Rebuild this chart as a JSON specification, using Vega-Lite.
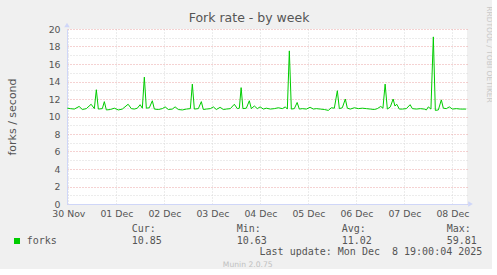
{
  "$schema": "https://vega.github.io/schema/vega-lite/v6.json",
  "background": "#f0f0f0",
  "padding": {"left": 6, "top": 5, "right": 0, "bottom": 0},
  "config": {"view": {"stroke": null}},
  "spacing": 5,
  "datasets": {
    "fork": [
      {"t":"2025-11-30T11:30","v":10.95},{"t":"2025-11-30T13:00","v":10.9},{"t":"2025-11-30T15:00","v":10.85},{"t":"2025-11-30T17:24","v":11.15},{"t":"2025-11-30T19:00","v":10.8},{"t":"2025-11-30T21:00","v":10.9},{"t":"2025-11-30T23:24","v":11.4},
      {"t":"2025-12-01T01:00","v":10.9},{"t":"2025-12-01T02:00","v":13.06},{"t":"2025-12-01T03:00","v":10.85},{"t":"2025-12-01T05:00","v":10.9},{"t":"2025-12-01T06:00","v":11.7},{"t":"2025-12-01T07:00","v":10.75},{"t":"2025-12-01T09:00","v":10.8},{"t":"2025-12-01T11:00","v":10.95},{"t":"2025-12-01T13:00","v":10.75},{"t":"2025-12-01T15:00","v":10.85},{"t":"2025-12-01T17:54","v":11.4},{"t":"2025-12-01T19:30","v":10.9},{"t":"2025-12-01T21:00","v":10.85},{"t":"2025-12-01T22:30","v":10.95},{"t":"2025-12-01T23:54","v":11.35},
      {"t":"2025-12-02T01:00","v":10.95},{"t":"2025-12-02T02:00","v":14.5},{"t":"2025-12-02T03:00","v":10.95},{"t":"2025-12-02T04:30","v":11.0},{"t":"2025-12-02T06:00","v":11.8},{"t":"2025-12-02T07:00","v":10.85},{"t":"2025-12-02T09:00","v":10.8},{"t":"2025-12-02T11:00","v":10.9},{"t":"2025-12-02T12:24","v":11.1},{"t":"2025-12-02T14:00","v":10.8},{"t":"2025-12-02T16:00","v":10.85},{"t":"2025-12-02T17:24","v":11.1},{"t":"2025-12-02T19:00","v":10.8},{"t":"2025-12-02T21:00","v":10.75},{"t":"2025-12-02T23:00","v":10.85},
      {"t":"2025-12-03T01:00","v":10.9},{"t":"2025-12-03T02:00","v":13.7},{"t":"2025-12-03T03:00","v":10.85},{"t":"2025-12-03T05:00","v":10.9},{"t":"2025-12-03T06:30","v":11.7},{"t":"2025-12-03T07:30","v":10.8},{"t":"2025-12-03T09:00","v":10.85},{"t":"2025-12-03T11:00","v":10.9},{"t":"2025-12-03T12:30","v":11.1},{"t":"2025-12-03T14:00","v":10.8},{"t":"2025-12-03T15:54","v":11.05},{"t":"2025-12-03T17:30","v":10.8},{"t":"2025-12-03T19:00","v":10.85},{"t":"2025-12-03T21:00","v":10.9},{"t":"2025-12-03T23:00","v":11.4},
      {"t":"2025-12-04T00:30","v":10.9},{"t":"2025-12-04T01:30","v":10.95},{"t":"2025-12-04T02:24","v":13.3},{"t":"2025-12-04T03:18","v":10.9},{"t":"2025-12-04T05:00","v":10.95},{"t":"2025-12-04T06:30","v":11.8},{"t":"2025-12-04T07:30","v":10.9},{"t":"2025-12-04T09:00","v":11.2},{"t":"2025-12-04T10:30","v":10.9},{"t":"2025-12-04T11:54","v":11.1},{"t":"2025-12-04T13:30","v":10.85},{"t":"2025-12-04T15:00","v":10.95},{"t":"2025-12-04T17:00","v":10.85},{"t":"2025-12-04T19:00","v":10.9},{"t":"2025-12-04T21:00","v":11.0},{"t":"2025-12-04T23:00","v":10.9},
      {"t":"2025-12-05T00:30","v":11.1},{"t":"2025-12-05T01:30","v":10.85},{"t":"2025-12-05T02:30","v":17.5},{"t":"2025-12-05T03:30","v":10.85},{"t":"2025-12-05T05:00","v":10.9},{"t":"2025-12-05T06:24","v":11.6},{"t":"2025-12-05T07:30","v":10.85},{"t":"2025-12-05T09:00","v":10.9},{"t":"2025-12-05T11:00","v":10.85},{"t":"2025-12-05T12:54","v":11.05},{"t":"2025-12-05T14:30","v":10.85},{"t":"2025-12-05T16:00","v":10.9},{"t":"2025-12-05T18:00","v":10.85},{"t":"2025-12-05T20:00","v":10.8},{"t":"2025-12-05T22:00","v":10.7},{"t":"2025-12-05T23:30","v":11.0},
      {"t":"2025-12-06T01:00","v":10.95},{"t":"2025-12-06T02:30","v":12.95},{"t":"2025-12-06T03:30","v":10.9},{"t":"2025-12-06T05:00","v":11.0},{"t":"2025-12-06T06:30","v":12.0},{"t":"2025-12-06T07:30","v":10.95},{"t":"2025-12-06T09:00","v":10.85},{"t":"2025-12-06T11:00","v":11.0},{"t":"2025-12-06T13:00","v":10.9},{"t":"2025-12-06T15:00","v":10.95},{"t":"2025-12-06T17:00","v":10.9},{"t":"2025-12-06T19:00","v":10.85},{"t":"2025-12-06T21:00","v":10.8},{"t":"2025-12-06T22:30","v":10.9},
      {"t":"2025-12-07T00:12","v":11.15},{"t":"2025-12-07T01:18","v":10.95},{"t":"2025-12-07T02:24","v":13.7},{"t":"2025-12-07T03:30","v":10.85},{"t":"2025-12-07T05:00","v":11.1},{"t":"2025-12-07T06:24","v":12.0},{"t":"2025-12-07T07:18","v":11.2},{"t":"2025-12-07T08:12","v":11.4},{"t":"2025-12-07T09:30","v":10.85},{"t":"2025-12-07T11:00","v":10.85},{"t":"2025-12-07T13:00","v":10.9},{"t":"2025-12-07T14:54","v":11.35},{"t":"2025-12-07T16:00","v":10.9},{"t":"2025-12-07T18:00","v":10.85},{"t":"2025-12-07T20:00","v":10.9},{"t":"2025-12-07T22:00","v":10.85},{"t":"2025-12-07T23:00","v":10.75},
      {"t":"2025-12-08T00:00","v":11.1},{"t":"2025-12-08T01:18","v":10.85},{"t":"2025-12-08T02:30","v":19.1},{"t":"2025-12-08T03:30","v":10.7},{"t":"2025-12-08T05:00","v":10.75},{"t":"2025-12-08T06:30","v":11.9},{"t":"2025-12-08T07:30","v":10.95},{"t":"2025-12-08T09:00","v":10.9},{"t":"2025-12-08T10:30","v":11.1},{"t":"2025-12-08T12:00","v":10.85},{"t":"2025-12-08T14:00","v":10.9},{"t":"2025-12-08T16:00","v":10.85},{"t":"2025-12-08T18:54","v":10.85}
    ],
    "legend": [
      {"kind":"stat","col":"Cur","row":"head","label":"Cur:"},
      {"kind":"stat","col":"Min","row":"head","label":"Min:"},
      {"kind":"stat","col":"Avg","row":"head","label":"Avg:"},
      {"kind":"stat","col":"Max","row":"head","label":"Max:"},
      {"kind":"stat","col":"forks","row":"value","label":"forks"},
      {"kind":"stat","col":"Cur","row":"value","label":"10.85"},
      {"kind":"stat","col":"Min","row":"value","label":"10.63"},
      {"kind":"stat","col":"Avg","row":"value","label":"11.02"},
      {"kind":"stat","col":"Max","row":"value","label":"59.81"},
      {"kind":"update","col":"Max","row":"update","label":"Last update: Mon Dec \u00a08 19:00:04 2025"},
      {"kind":"munin","col":"Min","row":"munin","label":"Munin 2.0.75"}
    ]
  },
  "vconcat": [
    {
      "width": 400,
      "height": 175,
      "title": {"text": "Fork rate - by week", "font": "DejaVu Sans", "fontSize": 12.5, "fontWeight": "normal", "color": "#555555", "anchor": "middle", "frame": "bounds", "baseline": "alphabetic", "offset": -29},
      "view": {"fill": "#ffffff", "stroke": null},
      "resolve": {"axis": {"y": "independent"}},
      "layer": [
        {
          "data": {"name": "fork"},
          "mark": {"type": "line", "color": "#00cc00", "strokeWidth": 1},
          "encoding": {
            "x": {
              "field": "t", "type": "temporal",
              "scale": {"domain": [{"year": 2025, "month": 11, "date": 30, "hours": 11, "minutes": 20}, {"year": 2025, "month": 12, "date": 8, "hours": 19, "minutes": 20}]},
              "axis": {
                "title": null,
                "values": [
                  {"year":2025,"month":11,"date":30,"hours":12},{"year":2025,"month":11,"date":30,"hours":18},
                  {"year":2025,"month":12,"date":1,"hours":0},{"year":2025,"month":12,"date":1,"hours":6},{"year":2025,"month":12,"date":1,"hours":12},{"year":2025,"month":12,"date":1,"hours":18},
                  {"year":2025,"month":12,"date":2,"hours":0},{"year":2025,"month":12,"date":2,"hours":6},{"year":2025,"month":12,"date":2,"hours":12},{"year":2025,"month":12,"date":2,"hours":18},
                  {"year":2025,"month":12,"date":3,"hours":0},{"year":2025,"month":12,"date":3,"hours":6},{"year":2025,"month":12,"date":3,"hours":12},{"year":2025,"month":12,"date":3,"hours":18},
                  {"year":2025,"month":12,"date":4,"hours":0},{"year":2025,"month":12,"date":4,"hours":6},{"year":2025,"month":12,"date":4,"hours":12},{"year":2025,"month":12,"date":4,"hours":18},
                  {"year":2025,"month":12,"date":5,"hours":0},{"year":2025,"month":12,"date":5,"hours":6},{"year":2025,"month":12,"date":5,"hours":12},{"year":2025,"month":12,"date":5,"hours":18},
                  {"year":2025,"month":12,"date":6,"hours":0},{"year":2025,"month":12,"date":6,"hours":6},{"year":2025,"month":12,"date":6,"hours":12},{"year":2025,"month":12,"date":6,"hours":18},
                  {"year":2025,"month":12,"date":7,"hours":0},{"year":2025,"month":12,"date":7,"hours":6},{"year":2025,"month":12,"date":7,"hours":12},{"year":2025,"month":12,"date":7,"hours":18},
                  {"year":2025,"month":12,"date":8,"hours":0},{"year":2025,"month":12,"date":8,"hours":6},{"year":2025,"month":12,"date":8,"hours":12},{"year":2025,"month":12,"date":8,"hours":18}
                ],
                "labelExpr": "hours(datum.value) === 12 ? timeFormat(datum.value, '%d %b') : ''",
                "labelOverlap": false, "labelFlush": false,
                "labelFont": "DejaVu Sans", "labelFontSize": 9.33, "labelColor": "#555555", "labelPadding": 5.5,
                "ticks": false,
                "domainColor": "#cfd6f8",
                "grid": true,
                "gridColor": {"condition": {"test": "hours(datum.value) === 0", "value": "#eba5a5"}, "value": "#d8d8d8"},
                "gridDash": [1, 2], "gridOpacity": 1
              }
            },
            "y": {
              "field": "v", "type": "quantitative",
              "scale": {"domain": [0, 20], "nice": false},
              "axis": {
                "orient": "left",
                "values": [0,1,2,3,4,5,6,7,8,9,10,11,12,13,14,15,16,17,18,19,20],
                "title": "forks / second",
                "titleFont": "DejaVu Sans", "titleFontSize": 11, "titleFontWeight": "normal", "titleColor": "#555555", "titlePadding": 31,
                "labelExpr": "datum.value % 2 === 0 ? datum.label : ''",
                "labelOverlap": false, "labelFlush": false,
                "labelFont": "DejaVu Sans", "labelFontSize": 9.33, "labelColor": "#555555", "labelPadding": 7,
                "ticks": false,
                "domainColor": "#cfd6f8",
                "grid": true,
                "gridColor": {"condition": {"test": "datum.value % 2 === 0", "value": "#eba5a5"}, "value": "#d8d8d8"},
                "gridDash": [1, 2], "gridOpacity": 1
              }
            }
          }
        },
        {
          "data": {"values": [{}]},
          "mark": {"type": "point", "shape": "triangle-up", "filled": true, "color": "#cfd6f8", "opacity": 1, "size": 30, "yOffset": -4},
          "encoding": {
            "x": {"datum": {"year": 2025, "month": 11, "date": 30, "hours": 11, "minutes": 20}, "type": "temporal"},
            "y": {
              "datum": 20, "type": "quantitative",
              "axis": {
                "orient": "right", "labels": false, "ticks": false, "domain": false, "grid": false,
                "title": "RRDTOOL / TOBI OETIKER",
                "titleFont": "DejaVu Sans", "titleFontSize": 7.5, "titleFontWeight": "normal", "titleColor": "#c8c8c8",
                "titleAngle": 90, "titleAlign": "center", "titleBaseline": "middle", "titleX": 21, "titleY": 25
              }
            }
          }
        },
        {
          "data": {"values": [{}]},
          "mark": {"type": "point", "shape": "triangle-right", "filled": true, "color": "#cfd6f8", "opacity": 1, "size": 30, "xOffset": 3.5},
          "encoding": {
            "x": {"datum": {"year": 2025, "month": 12, "date": 8, "hours": 19, "minutes": 20}, "type": "temporal"},
            "y": {"datum": 0, "type": "quantitative", "axis": null}
          }
        }
      ]
    },
    {
      "width": 400,
      "height": 36,
      "view": {"fill": null, "stroke": null},
      "data": {"name": "legend"},
      "encoding": {
        "x": {"field": "col", "type": "nominal", "scale": {"type": "point", "domain": ["forks", "Cur", "Min", "Avg", "Max"], "range": [-40.3, 379.7], "padding": 0}, "axis": null},
        "y": {"field": "row", "type": "nominal", "scale": {"type": "point", "domain": ["head", "value", "update", "munin"], "range": [0, 36], "padding": 0}, "axis": null},
        "text": {"field": "label"}
      },
      "layer": [
        {
          "transform": [{"filter": "datum.kind === 'stat'"}],
          "mark": {"type": "text", "align": "left", "baseline": "middle", "font": "DejaVu Sans Mono", "fontSize": 10, "color": "#555555"}
        },
        {
          "transform": [{"filter": "datum.col === 'forks'"}],
          "mark": {"type": "square", "filled": true, "color": "#00cc00", "opacity": 1, "size": 36, "xOffset": -9.7}
        },
        {
          "transform": [{"filter": "datum.kind === 'update'"}],
          "mark": {"type": "text", "align": "right", "baseline": "middle", "font": "DejaVu Sans Mono", "fontSize": 10, "color": "#555555", "dx": 35.6, "dy": -1}
        },
        {
          "transform": [{"filter": "datum.kind === 'munin'"}],
          "mark": {"type": "text", "align": "center", "baseline": "middle", "font": "DejaVu Sans", "fontSize": 7.6, "color": "#c0c0c0", "dx": 11}
        }
      ]
    }
  ]
}
